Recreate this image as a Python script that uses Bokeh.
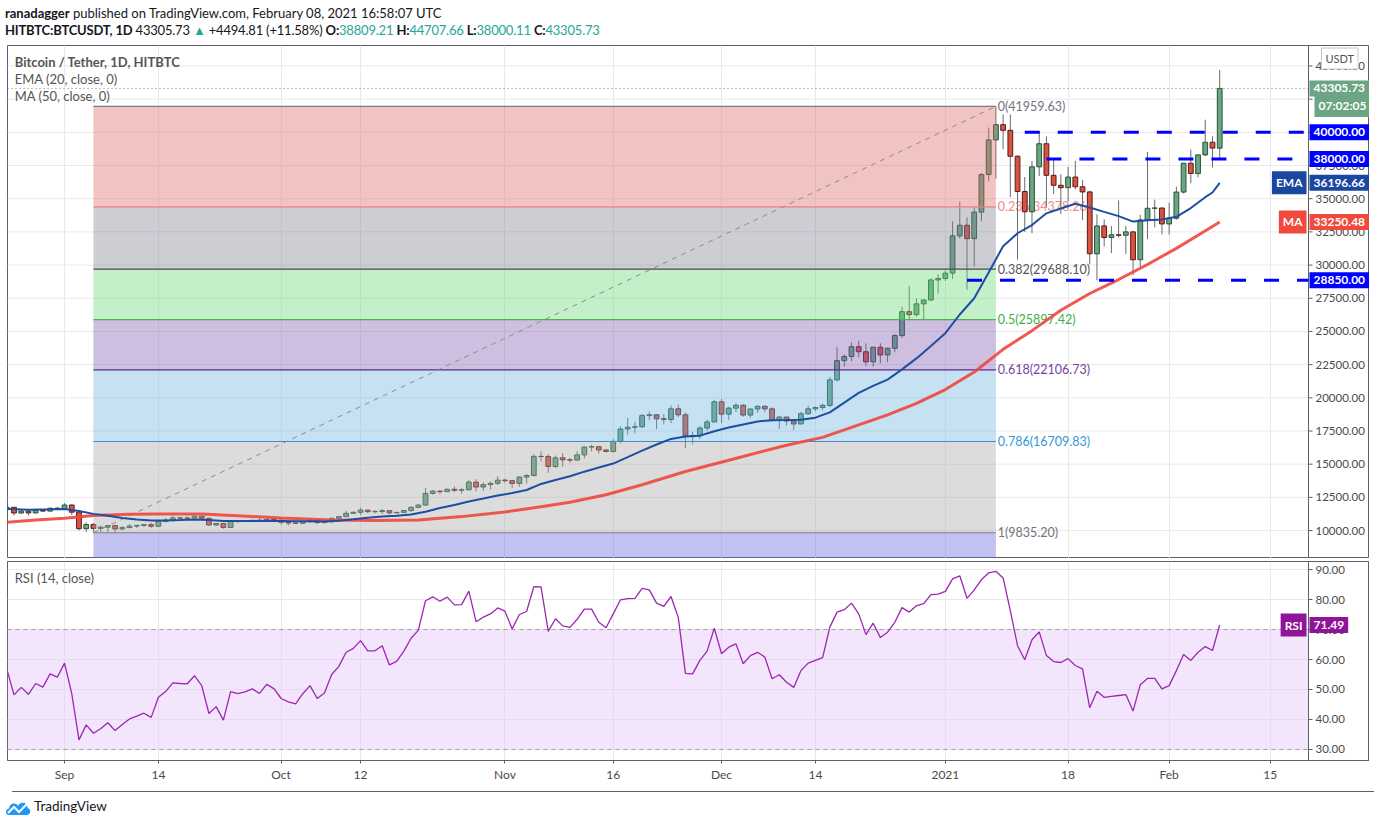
import pandas as pd
from bokeh.plotting import figure
from bokeh.layouts import column
from bokeh.models import ColumnDataSource, FixedTicker, Range1d, Label, Div
from bokeh.embed import file_html
from bokeh.resources import INLINE
from bokeh.core.properties import value

FONT = "Lato"
ORIGIN = pd.Timestamp("2020-09-01")
START = "2020-08-24"

# ---------------- data ----------------
opens = [11640, 11751, 11322, 11463, 11330, 11527, 11466, 11683,
         11650, 11924, 11388, 10141, 10456, 10164, 10256, 10374, 10126, 10220, 10336, 10392, 10443, 10323, 10680, 10786, 10955, 10940, 10933, 11082, 10921, 10420, 10530, 10235, 10740, 10693, 10730, 10775, 10710, 10840,
         10776, 10620, 10570, 10545, 10665, 10790, 10600, 10670, 10925, 11050, 11300, 11375, 11540, 11425, 11430, 11500, 11330, 11370, 11510, 11750, 11920, 12800, 12970, 12930, 13110, 13030, 13070, 13650, 13280, 13460, 13560,
         13800, 13760, 13550, 14030, 14150, 15590, 15580, 14830, 15480, 15330, 15310, 15700, 16290, 16320, 16070, 15960, 16720, 17650, 17780, 17820, 18660, 18720, 18420, 18370, 19170, 18720, 17150, 17140, 17720, 18180,
         19700, 18770, 19220, 19440, 18700, 19160, 19360, 19170, 18320, 18550, 18250, 18030, 18800, 19170, 19270, 19430, 21350, 22800, 23110, 23850, 23470, 22710, 23810, 23230, 23730, 24690, 26490, 26270, 27080, 27370, 28880,
         28990, 29390, 32200, 33000, 31990, 33990, 36820, 39430, 40580, 40150, 38200, 35540, 34020, 37400, 39140, 36760, 36010, 35830, 36630, 35900, 35510, 30850, 32950, 32080, 32280, 32250, 32500, 30400, 33400, 34280, 34300,
         33100, 33530, 35500, 37670, 36900, 38300, 39250, 38809.21]
highs = [11838, 11769, 11530, 11591, 11545, 11580, 11718, 11778,
         12067, 11955, 11462, 10631, 10570, 10353, 10410, 10428, 10350, 10485, 10400, 10479, 10578, 10800, 10945, 11100, 11040, 11048, 11180, 11082, 10988, 10574, 10535, 10795, 10760, 10780, 10800, 10960, 10860, 10850,
         10920, 10650, 10600, 10700, 10800, 10800, 10680, 10950, 11100, 11485, 11440, 11730, 11560, 11550, 11620, 11540, 11400, 11500, 11820, 12000, 13220, 13050, 13030, 13160, 13340, 13240, 13800, 13870, 13620, 13700, 14100,
         13900, 13820, 14070, 14250, 15750, 15970, 15760, 15650, 15850, 15480, 15960, 16340, 16480, 16330, 16140, 16880, 17860, 18480, 18180, 18800, 18970, 18770, 18770, 19420, 19480, 18910, 17450, 17880, 18350, 19860,
         19920, 19330, 19600, 19520, 19180, 19420, 19420, 19290, 18640, 18560, 18290, 18950, 19410, 19350, 19570, 21560, 23800, 23280, 24170, 24300, 24100, 23840, 24100, 23780, 24800, 26870, 28420, 27500, 27400, 28990, 29300,
         29600, 33300, 34780, 33600, 34360, 36940, 40360, 41959.63, 41350, 41350, 38260, 36630, 37850, 40100, 39700, 37950, 36850, 37400, 37850, 36400, 35600, 33830, 33450, 32940, 34870, 32950, 32560, 33780, 38530, 34930, 34300,
         34700, 35900, 37700, 38700, 38310, 40950, 39700, 44707.66]
lows = [11596, 11118, 11250, 11133, 11288, 11416, 11437, 11560,
        11635, 11160, 10000, 9875, 9835.20, 9888, 9875, 9850, 10005, 10200, 10200, 10280, 10200, 10252, 10620, 10660, 10750, 10820, 10900, 10784, 10360, 10355, 10136, 10200, 10560, 10650, 10630, 10680, 10650, 10680,
        10440, 10380, 10500, 10500, 10600, 10500, 10530, 10540, 10830, 11050, 11250, 11180, 11300, 11280, 11260, 11210, 11300, 11350, 11400, 11680, 11900, 12700, 12730, 12900, 12900, 12780, 13050, 12950, 12980, 13100, 13420,
        13600, 13200, 13300, 13530, 14100, 15200, 14350, 14720, 14800, 15100, 15280, 15440, 15960, 15800, 15870, 15870, 16560, 17220, 17330, 17750, 18330, 17640, 18000, 18100, 18570, 16200, 16500, 16880, 17520, 18180,
        18100, 18330, 18930, 18580, 18500, 18860, 18900, 18200, 17650, 17910, 17570, 18020, 18730, 19000, 19050, 19300, 21230, 22350, 22750, 23060, 22400, 22350, 22600, 22700, 23430, 24500, 25850, 26100, 25880, 27320, 27850,
        28800, 28950, 32000, 28130, 29900, 33300, 36300, 36500, 38720, 35110, 30400, 32500, 32400, 36700, 34400, 35360, 33850, 34800, 35700, 33400, 30070, 28850, 31400, 30900, 32080, 30840, 29240, 29850, 31950, 32850, 32300,
        32300, 33420, 35380, 36160, 36600, 38220, 37350, 38000.11]
closes = [11751, 11322, 11463, 11330, 11527, 11466, 11683, 11650,
          11924, 11388, 10141, 10456, 10164, 10256, 10374, 10126, 10220, 10336, 10392, 10443, 10323, 10680, 10786, 10955, 10940, 10933, 11082, 10921, 10420, 10530, 10235, 10740, 10693, 10730, 10775, 10710, 10840, 10776,
          10620, 10570, 10545, 10665, 10790, 10600, 10670, 10925, 11050, 11300, 11375, 11540, 11425, 11430, 11500, 11330, 11370, 11510, 11750, 11920, 12800, 12970, 12930, 13110, 13030, 13070, 13650, 13280, 13460, 13560, 13800,
          13760, 13550, 14030, 14150, 15590, 15580, 14830, 15480, 15330, 15310, 15700, 16290, 16320, 16070, 15960, 16720, 17650, 17780, 17820, 18660, 18720, 18420, 18370, 19170, 18720, 17150, 17140, 17720, 18180, 19700,
          18770, 19220, 19440, 18700, 19160, 19360, 19170, 18320, 18550, 18250, 18030, 18800, 19170, 19270, 19430, 21350, 22800, 23110, 23850, 23470, 22710, 23810, 23230, 23730, 24690, 26490, 26270, 27080, 27370, 28880, 28990,
          29390, 32200, 33000, 31990, 33990, 36820, 39430, 40580, 40150, 38200, 35540, 34020, 37400, 39140, 36760, 36010, 35830, 36630, 35900, 35510, 30850, 32950, 32080, 32280, 32250, 32500, 30400, 33400, 34280, 34300, 33100,
          33530, 35500, 37670, 36900, 38300, 39250, 38810, 43305.73]
rsi = [56.9, 48.2, 50.7, 48.4, 52.0, 50.8, 55.2, 54.1,
       58.8, 48.6, 33.2, 38.2, 35.4, 36.9, 38.9, 36.3, 38.3, 40.2, 41.1, 42.1, 40.7, 47.4, 49.3, 52.2, 52.0, 51.9, 54.6, 51.3, 42.0, 44.3, 39.8, 49.3, 48.6, 49.2, 50.2, 48.7, 51.7, 50.3,
       47.0, 45.9, 45.2, 48.6, 51.3, 47.0, 48.8, 55.0, 57.7, 62.4, 63.7, 66.3, 62.9, 62.9, 64.6, 58.2, 59.4, 62.8, 67.1, 69.7, 79.6, 80.9, 79.4, 80.8, 78.2, 78.3, 82.8, 72.6, 74.1, 75.2, 77.2,
       76.1, 70.2, 75.0, 76.0, 84.3, 84.2, 69.4, 73.6, 71.2, 70.7, 73.4, 76.8, 76.8, 72.4, 70.6, 75.2, 79.9, 80.3, 80.4, 83.7, 83.2, 78.8, 77.7, 81.0, 74.1, 55.4, 55.2, 59.7, 62.8, 70.4,
       61.9, 64.1, 65.2, 58.6, 61.3, 62.4, 60.8, 53.6, 54.9, 52.4, 50.7, 56.3, 58.8, 59.7, 60.6, 70.8, 75.8, 76.6, 78.8, 75.2, 68.3, 72.1, 67.3, 69.1, 72.4, 77.3, 75.8, 77.9, 78.6, 81.6, 81.8,
       82.7, 86.9, 87.9, 80.4, 83.2, 86.6, 88.9, 89.4, 87.2, 76.3, 64.6, 59.9, 66.6, 69.2, 61.3, 59.3, 59.0, 60.3, 58.0, 56.9, 43.9, 49.4, 47.4, 47.7, 48.0, 48.3, 42.8, 51.6, 53.7, 53.7, 50.2,
       51.3, 56.3, 61.7, 59.7, 62.4, 64.3, 63.0, 71.49]

ema_dates = ["2020-08-24", "2020-08-27", "2020-08-30", "2020-09-01", "2020-09-03", "2020-09-05", "2020-09-07", "2020-09-09",
             "2020-09-11", "2020-09-13", "2020-09-15", "2020-09-17", "2020-09-19", "2020-09-21", "2020-09-23", "2020-09-25",
             "2020-09-27", "2020-09-29", "2020-10-01", "2020-10-03", "2020-10-05", "2020-10-07", "2020-10-09", "2020-10-11",
             "2020-10-13", "2020-10-15", "2020-10-17", "2020-10-19", "2020-10-21", "2020-10-23", "2020-10-25", "2020-10-27",
             "2020-10-29", "2020-10-31", "2020-11-02", "2020-11-04", "2020-11-06", "2020-11-08", "2020-11-10", "2020-11-12",
             "2020-11-14", "2020-11-16", "2020-11-18", "2020-11-20", "2020-11-22", "2020-11-24", "2020-11-26", "2020-11-28",
             "2020-11-30", "2020-12-02", "2020-12-04", "2020-12-06", "2020-12-08", "2020-12-10", "2020-12-12", "2020-12-14",
             "2020-12-16", "2020-12-18", "2020-12-20", "2020-12-22", "2020-12-24", "2020-12-26", "2020-12-28", "2020-12-30",
             "2021-01-01", "2021-01-03", "2021-01-05", "2021-01-07", "2021-01-09", "2021-01-11", "2021-01-13", "2021-01-15",
             "2021-01-17", "2021-01-19", "2021-01-21", "2021-01-23", "2021-01-25", "2021-01-27", "2021-01-29", "2021-01-31",
             "2021-02-02", "2021-02-04", "2021-02-06", "2021-02-07", "2021-02-08"]
ema_values = [11630, 11560, 11600, 11631, 11468, 11257, 11114, 10944,
              10839, 10756, 10753, 10788, 10828, 10797, 10721, 10720,
              10726, 10735, 10728, 10697, 10703, 10691, 10745, 10853,
              10966, 11057, 11110, 11206, 11419, 11697, 11932, 12194,
              12408, 12640, 12823, 13053, 13513, 13813, 14087, 14436,
              14754, 15045, 15530, 16025, 16485, 16904, 17084, 17149,
              17481, 17758, 17992, 18223, 18314, 18328, 18348, 18506,
              18907, 19643, 20370, 20899, 21369, 22142, 22968, 23910,
              24870, 26276, 27503, 29441, 31421, 32397, 33014, 33898,
              34264, 34624, 34341, 34006, 33690, 33274, 33381, 33433,
              33638, 34296, 35113, 35465, 36196.66]

ma_dates = ["2020-08-24", "2020-08-28", "2020-09-01", "2020-09-05", "2020-09-10", "2020-09-14", "2020-09-20", "2020-09-25",
            "2020-10-01", "2020-10-08", "2020-10-14", "2020-10-20", "2020-10-26", "2020-11-01", "2020-11-06", "2020-11-10",
            "2020-11-15", "2020-11-20", "2020-11-26", "2020-12-02", "2020-12-10", "2020-12-15", "2020-12-19", "2020-12-24",
            "2020-12-28", "2021-01-01", "2021-01-05", "2021-01-09", "2021-01-13", "2021-01-17", "2021-01-21", "2021-01-25",
            "2021-01-29", "2021-02-02", "2021-02-05", "2021-02-08"]
ma_values = [10630, 10800, 10930, 11130, 11220, 11250, 11240, 11120,
             10950, 10800, 10760, 10800, 11050, 11400, 11800, 12130,
             12700, 13450, 14450, 15300, 16430, 17020, 17770, 18720,
             19580, 20620, 21940, 23650, 25060, 26600, 27860, 28910,
             30040, 31260, 32250, 33250.48]

fib_names = ["0", "0.236", "0.382", "0.5", "0.618", "0.786", "1"]
fib_levels = [41959.63, 34378.26, 29688.10, 25897.42, 22106.73, 16709.83, 9835.20]
fib_start, fib_end = "2020-09-05", "2021-01-08"
fib_fill = ["#dc6969", "#828293", "#69d975", "#845cb1", "#6eb4de", "#a8a8a8", "#6666da"]
fib_line = ["#787b86", "#ef7f7f", "#4a4a4a", "#4caf50", "#5b2a86", "#3d8fc9", "#787b86"]
fib_text = ["#6f7280", "#f08a8a", "#555555", "#3fae47", "#7a3ea0", "#2e9ad6", "#6f7280"]

support_levels = [40000, 38000, 28850]
support_from = ["2021-01-12", "2021-01-15", "2021-01-04"]

tick_dates = ["2020-09-01", "2020-09-14", "2020-10-01", "2020-10-12", "2020-11-01", "2020-11-16",
              "2020-12-01", "2020-12-14", "2021-01-01", "2021-01-18", "2021-02-01", "2021-02-15"]
tick_labels = ["Sep", "14", "Oct", "12", "Nov", "16", "Dec", "14", "2021", "18", "Feb", "15"]

price_ticks = list(range(10000, 45001, 2500))
rsi_ticks = [30, 40, 50, 60, 70, 80, 90]


def day(d):
    return (pd.Timestamp(d) - ORIGIN).days


x_first = day(START)
xs = [x_first + i for i in range(len(closes))]

# geometry: chart area (X0..X1) is CW px wide, price scale strip to the right
X0, X1 = -7.9, 172.3
CW = 1301
FWT = 1362
LB = 7                        # left border
S = CW / (X1 - X0)            # px per day
XF = X0 + FWT / S             # right edge of frame incl. price-scale strip
GRID = "#e9e9ec"
BORDER = "#5d606b"
AXTXT = "#4a4a4a"
UP, DOWN = "#6ba583", "#d75442"
UP_L, DOWN_L = "#225437", "#5b1a13"

tick_pos = [day(d) for d in tick_dates]


def price_scale(fig, ticks, y0, y1):
    # horizontal grid limited to chart area, scale line, tick marks and labels
    fig.segment(x0=[X0] * len(ticks), x1=[X1] * len(ticks), y0=ticks, y1=ticks,
                line_color=GRID, line_width=1, level="underlay")
    fig.line([X1, X1], [y0, y1], line_color=BORDER, line_width=1)
    fig.segment(x0=[X1] * len(ticks), x1=[X1 + 4 / S] * len(ticks), y0=ticks, y1=ticks,
                line_color=BORDER, line_width=1)
    fig.text(x=[X1 + 7 / S] * len(ticks), y=ticks, text=[f"{t:.2f}" for t in ticks],
             text_font=value(FONT), text_font_size="11.5px", text_color=AXTXT,
             text_baseline="middle", text_align="left")


def tag(fig, x, y, text, bg, align="left", xoff=0, yoff=0, color="#ffffff", bold=True,
        border=None, size="12px"):
    fig.add_layout(Label(x=x, y=y, text=text, text_align=align, text_baseline="middle",
                         x_offset=xoff, y_offset=yoff, text_color=color, text_font=FONT,
                         text_font_style="bold" if bold else "normal", text_font_size=size,
                         background_fill_color=bg, background_fill_alpha=1.0,
                         border_line_color=border, padding=4))


# ---------------- price panel ----------------
PY0, PY1 = 7895, 46541
p = figure(x_range=Range1d(X0, XF), y_range=Range1d(PY0, PY1),
           frame_width=FWT, frame_height=513, min_border_left=LB, min_border_right=0,
           min_border_top=1, min_border_bottom=0, output_backend="svg", toolbar_location=None)
p.xaxis.visible = False
p.yaxis.visible = False
p.outline_line_color = BORDER
p.xgrid.ticker = FixedTicker(ticks=tick_pos)
p.xgrid.grid_line_color = GRID
p.ygrid.grid_line_color = None
price_scale(p, price_ticks, PY0, PY1)

fx0, fx1 = day(fib_start), day(fib_end)
p.text(x=[fx1 + 0.25] * 7, y=fib_levels,
       text=[f"{n}({v:.2f})" for n, v in zip(fib_names, fib_levels)],
       text_color=fib_text, text_font=value(FONT), text_font_size="12.5px",
       text_baseline="middle", text_align="left")

up = [c >= o for o, c in zip(opens, closes)]
src = ColumnDataSource(dict(
    x=xs, high=highs, low=lows,
    top=[max(o, c) for o, c in zip(opens, closes)],
    bottom=[min(o, c) for o, c in zip(opens, closes)],
    fill=[UP if u else DOWN for u in up],
    line=[UP_L if u else DOWN_L for u in up],
))
p.segment(x0="x", y0="low", x1="x", y1="high", source=src, line_color="#6b6b6b", line_width=1)
p.vbar(x="x", width=0.66, top="top", bottom="bottom", fill_color="fill", line_color="line",
       line_width=1, source=src)

# fibonacci retracement bands
band_bottoms = fib_levels[1:] + [0]
p.quad(left=[fx0] * 7, right=[fx1] * 7, top=fib_levels, bottom=band_bottoms,
       fill_color=fib_fill, fill_alpha=0.4, line_color=None)
for lvl, col in zip(fib_levels, fib_line):
    p.line([fx0, fx1], [lvl, lvl], line_color=col, line_width=1.2)
p.line([fx0, fx1], [fib_levels[-1], fib_levels[0]], line_color="#8c8c8c", line_width=1, line_dash="5 5")

# moving averages
p.line([day(d) for d in ma_dates], ma_values, line_color="#f0463c", line_width=3, line_alpha=0.9)
p.line([day(d) for d in ema_dates], ema_values, line_color="#1c4fa3", line_width=2)

# last price line
p.line([X0, X1], [closes[-1], closes[-1]], line_color="#4f9a6c", line_width=1, line_dash="1 3")

# support / resistance lines
for lvl, d0 in zip(support_levels, support_from):
    p.line([day(d0), X1], [lvl, lvl], line_color="#0000ff", line_width=3, line_dash="15 18")

# legends top-left
p.text(x=[X0 + 1.0], y=[45330], text=["Bitcoin / Tether, 1D, HITBTC"], text_font=value(FONT),
       text_font_size="13px", text_font_style="bold", text_color="#555555", text_baseline="middle")
p.text(x=[X0 + 1.0, X0 + 1.0], y=[43990, 42700], text=["EMA (20, close, 0)", "MA (50, close, 0)"],
       text_font=value(FONT), text_font_size="13px", text_color="#555555", text_baseline="middle")

tag(p, X1, closes[-1], f"{closes[-1]:.2f}", "#6ba583", xoff=1)
tag(p, X1, closes[-1], "07:02:05", "#6ba583", xoff=6, yoff=-17)
for lvl in support_levels:
    tag(p, X1, lvl, f"{lvl:.2f}", "#0000ff", xoff=1)
tag(p, X1, ema_values[-1], f"{ema_values[-1]:.2f}", "#1a47a0", xoff=1)
tag(p, X1, ema_values[-1], "EMA", "#1a47a0", align="right", xoff=-2)
tag(p, X1, ma_values[-1], f"{ma_values[-1]:.2f}", "#f04a3c", xoff=1)
tag(p, X1, ma_values[-1], "MA", "#f04a3c", align="right", xoff=-2)
tag(p, X1, 45560, "USDT", "#ffffff", xoff=13, color="#555555", bold=False, border="#c8c8c8", size="11px")

# ---------------- RSI panel ----------------
RY0, RY1 = 26.33, 92.67
r = figure(x_range=p.x_range, y_range=Range1d(RY0, RY1),
           frame_width=FWT, frame_height=199, min_border_left=LB, min_border_right=0,
           min_border_top=3, min_border_bottom=26, output_backend="svg", toolbar_location=None)
r.outline_line_color = BORDER
r.yaxis.visible = False
r.xgrid.ticker = FixedTicker(ticks=tick_pos)
r.xgrid.grid_line_color = GRID
r.ygrid.grid_line_color = None
xa = r.xaxis[0]
xa.ticker = FixedTicker(ticks=tick_pos)
xa.major_label_overrides = {t: lab for t, lab in zip(tick_pos, tick_labels)}
xa.major_label_text_font = FONT
xa.major_label_text_font_size = "12px"
xa.major_label_text_color = AXTXT
xa.axis_line_color = BORDER
xa.major_tick_line_color = BORDER
xa.major_tick_out = 3
xa.major_tick_in = 0
xa.minor_tick_line_color = None
xa.major_label_standoff = 3

r.quad(left=[X0], right=[X1], bottom=[30], top=[70], fill_color="#e1c0f7",
       fill_alpha=0.4, line_color=None)
price_scale(r, rsi_ticks, RY0, RY1)
for lvl in (70, 30):
    r.line([X0, X1], [lvl, lvl], line_color="#a3a3a3", line_width=1, line_dash="4 4")
r.line(xs, rsi, line_color="#9c27b0", line_width=1.3)
r.text(x=[X0 + 1.0], y=[87.3], text=["RSI (14, close)"], text_font=value(FONT),
       text_font_size="13px", text_color="#555555", text_baseline="middle")
tag(r, X1, rsi[-1], f"{rsi[-1]:.2f}", "#8e1599", xoff=1)
tag(r, X1, rsi[-1], "RSI", "#8e1599", align="right", xoff=-2)

# ---------------- header / footer ----------------
G = "#26a69a"
TOTW = LB + FWT
header = Div(text=(
    "<div style='font-family:Lato;font-size:13px;color:#131722;line-height:17px;white-space:nowrap'>"
    "<b>ranadagger</b> published on TradingView.com, February 08, 2021 16:58:07 UTC<br>"
    f"<span style='letter-spacing:-0.2px'><b>HITBTC:BTCUSDT, 1D</b> 43305.73 <span style='color:{G}'>&#9650;</span> +4494.81 (+11.58%) "
    f"<b>O:</b><span style='color:{G}'>38809.21</span> <b>H:</b><span style='color:{G}'>44707.66</span> "
    f"<b>L:</b><span style='color:{G}'>38000.11</span> <b>C:</b><span style='color:{G}'>43305.73</span></span>"
    "</div>"), width=TOTW, height=34)
logo = ("<svg width='26' height='16' viewBox='0 0 26 16' style='vertical-align:middle;margin-right:3px'>"
        "<path d='M4 15 C0 15 0 9 4 8.5 C4.5 3 11 2 13 6 C15 1 23 2 22.5 8 C26.5 8.5 26 15 22 15 Z' fill='#2196f3'/>"
        "<polyline points='3,13 9,7 14,12 22,4' fill='none' stroke='#ffffff' stroke-width='2'/></svg>")
rule = (f"<svg width='{TOTW}' height='2' style='display:block'>"
        f"<line x1='{LB}' y1='0.5' x2='{TOTW}' y2='0.5' stroke='{BORDER}' stroke-width='1'/></svg>")
footer = Div(text=(
    rule +
    "<div style='font-family:Lato;font-size:13.5px;color:#131722;white-space:nowrap;padding-top:4px;padding-left:0px'>"
    f"{logo}TradingView</div>"), width=TOTW, height=30)

layout = column(header, p, r, footer, spacing=0)
open("out.html", "w").write(file_html(layout, INLINE))
